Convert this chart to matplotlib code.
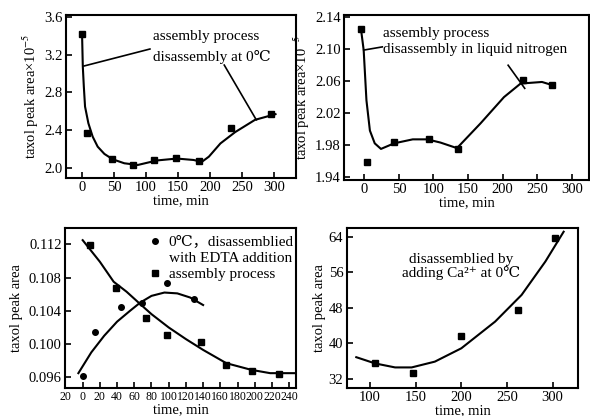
import numpy as np
import matplotlib
matplotlib.use('Agg')
import matplotlib.pyplot as plt
from matplotlib.lines import Line2D

plt.rcParams['font.family'] = ['Liberation Serif', 'DejaVu Serif', 'Noto Sans CJK SC']
plt.rcParams['mathtext.fontset'] = 'stix'
plt.rcParams['font.size'] = 10.5

# panel 1: disassembly at 0 C
t1 = [0, 8, 47, 80, 112, 147, 183, 233, 295]
a1 = [3.42, 2.37, 2.09, 2.03, 2.08, 2.11, 2.07, 2.42, 2.57]
fit1_t = [0, 1.2, 2.8, 4.7, 9.9, 16.6, 24.4, 34.9, 47.9, 66, 87, 117, 148, 174, 187, 198, 216, 239, 270, 302]
fit1_a = [3.427, 3.074, 2.862, 2.650, 2.474, 2.332, 2.226, 2.149, 2.092, 2.050, 2.032, 2.08, 2.10, 2.085, 2.065, 2.12, 2.26, 2.38, 2.51, 2.57]

# panel 2: disassembly in liquid nitrogen
t2 = [-5, 4, 43, 93, 135, 230, 271]
a2 = [2.126, 1.959, 1.984, 1.987, 1.975, 2.062, 2.055]
fit2_t = [-5, -1, 3, 8, 15, 24, 43, 70, 91, 110, 134, 168, 202, 226, 257, 272]
fit2_a = [2.126, 2.099, 2.036, 1.998, 1.982, 1.975, 1.982, 1.987, 1.987, 1.983, 1.976, 2.007, 2.040, 2.057, 2.059, 2.055]

# panel 3: EDTA disassembly (circles) and assembly (squares)
t3c = [0, 14, 45, 69, 98, 129]
a3c = [0.0961, 0.1014, 0.1045, 0.1050, 0.1074, 0.1054]
t3s = [8.5, 39, 74, 98, 138, 167, 197, 228]
a3s = [0.1119, 0.1068, 0.1031, 0.1011, 0.1002, 0.0975, 0.0968, 0.0964]
fit3c_t = [-5, 10, 25, 40, 55, 67, 80, 95, 110, 125, 140]
fit3c_a = [0.0965, 0.0990, 0.1010, 0.1027, 0.1040, 0.1050, 0.1058, 0.1062, 0.1061, 0.1056, 0.1047]
fit3s_t = [0, 20, 36, 51, 67, 80, 100, 120, 140, 167, 196, 218, 247]
fit3s_a = [0.1125, 0.1099, 0.1075, 0.1063, 0.1048, 0.1036, 0.1020, 0.1006, 0.0993, 0.0977, 0.0969, 0.0965, 0.0965]
x3_ticks = list(range(-20, 260, 20))
x3_labels = ['20', '0', '20', '40', '60', '80', '100', '120', '140', '160', '180', '200', '220', '240']

# panel 4: Ca2+ disassembly
t4 = [105.5, 147, 200, 261.5, 303]
a4 = [35.7, 33.3, 41.7, 47.4, 63.6]
fit4_t = [85, 105.6, 127.5, 145.6, 171, 200, 237, 266, 292, 312]
fit4_a = [36.9, 35.5, 34.6, 34.6, 35.9, 38.9, 44.9, 50.9, 58.4, 65.1]

fig = plt.figure(figsize=(5.9, 4.16), dpi=100)
ax1 = fig.add_axes([0.1119, 0.5721, 0.3898, 0.3918])
ax2 = fig.add_axes([0.5836, 0.5673, 0.4147, 0.3966])
ax3 = fig.add_axes([0.1107, 0.0680, 0.3910, 0.3846])
ax4 = fig.add_axes([0.5876, 0.0680, 0.3925, 0.3846])

for ax in [ax1, ax2, ax3, ax4]:
    for s in ax.spines.values():
        s.set_linewidth(1.5)
    ax.tick_params(direction='in', length=4, width=1.2, pad=2.5, labelsize=10.5)
    ax.set_xlabel('time, min', labelpad=0)

ms = 4
# panel 1
ax1.plot(fit1_t, fit1_a, color='black', lw=1.5)
ax1.plot(t1, a1, 's', color='black', ms=ms)
ax1.set_xlim(-25, 334)
ax1.set_ylim(1.894, 3.62)
ax1.set_xticks(np.arange(0, 301, 50))
ax1.set_yticks([2.0, 2.4, 2.8, 3.2, 3.6])
ax1.set_ylabel('taxol peak area×10$^{-5}$', labelpad=2)
ax1.text(111, 3.388, 'assembly process', va='center', fontsize=11)
ax1.text(111, 3.176, 'disassembly at 0℃', va='center', fontsize=11)
ax1.plot([3, 106], [3.08, 3.26], color='black', lw=1.2)
ax1.plot([222, 272], [3.09, 2.51], color='black', lw=1.2)

# panel 2
ax2.plot(fit2_t, fit2_a, color='black', lw=1.5)
ax2.plot(t2, a2, 's', color='black', ms=ms)
ax2.set_xlim(-29, 325)
ax2.set_ylim(1.936, 2.143)
ax2.set_xticks(np.arange(0, 301, 50))
ax2.set_yticks([1.94, 1.98, 2.02, 2.06, 2.10, 2.14])
ax2.set_yticklabels(['1.94', '1.98', '2.02', '2.06', '2.10', '2.14'])
ax2.set_ylabel('taxol peak area×10$^{-5}$', labelpad=2)
ax2.text(27.5, 2.120, 'assembly process', va='center', fontsize=11)
ax2.text(27.5, 2.100, 'disassembly in liquid nitrogen', va='center', fontsize=11)
ax2.plot([-1, 26], [2.099, 2.103], color='black', lw=1.2)
ax2.plot([208, 232], [2.080, 2.051], color='black', lw=1.2)

# panel 3
ax3.plot(fit3c_t, fit3c_a, color='black', lw=1.5)
ax3.plot(fit3s_t, fit3s_a, color='black', lw=1.5)
ax3.plot(t3c, a3c, 'o', color='black', ms=ms)
ax3.plot(t3s, a3s, 's', color='black', ms=ms)
ax3.set_xlim(-20.2, 248)
ax3.set_ylim(0.09475, 0.114)
ax3.set_xticks(x3_ticks)
ax3.set_xticklabels(x3_labels)
ax3.tick_params(axis='x', labelsize=8.5)
ax3.set_yticks([0.096, 0.100, 0.104, 0.108, 0.112])
ax3.set_yticklabels(['0.096', '0.100', '0.104', '0.108', '0.112'])
ax3.set_ylabel('taxol peak area', labelpad=4)
handles = [Line2D([], [], marker='o', color='black', ls='none', ms=ms),
           Line2D([], [], ls='none'),
           Line2D([], [], marker='s', color='black', ls='none', ms=ms)]
labels = ['0℃，disassemblied', 'with EDTA addition', 'assembly process']
ax3.legend(handles, labels, loc='upper right', bbox_to_anchor=(1.03, 1.01), frameon=False,
           handlelength=0.8, handletextpad=0.5, labelspacing=0.15, borderaxespad=0.2, fontsize=11)

# panel 4
ax4.plot(fit4_t, fit4_a, color='black', lw=1.5)
ax4.plot(t4, a4, 's', color='black', ms=ms)
ax4.set_xlim(74.5, 328)
ax4.set_ylim(30.04, 66.0)
ax4.set_xticks([100, 150, 200, 250, 300])
ax4.set_yticks([32, 40, 48, 56, 64])
ax4.set_ylabel('taxol peak area', labelpad=2)
ax4.text(200, 57.3, 'disassemblied by\nadding Ca²⁺ at 0℃', ha='center', va='center',
         linespacing=1.0, fontsize=11)

fig.savefig('out.png', dpi=100)
